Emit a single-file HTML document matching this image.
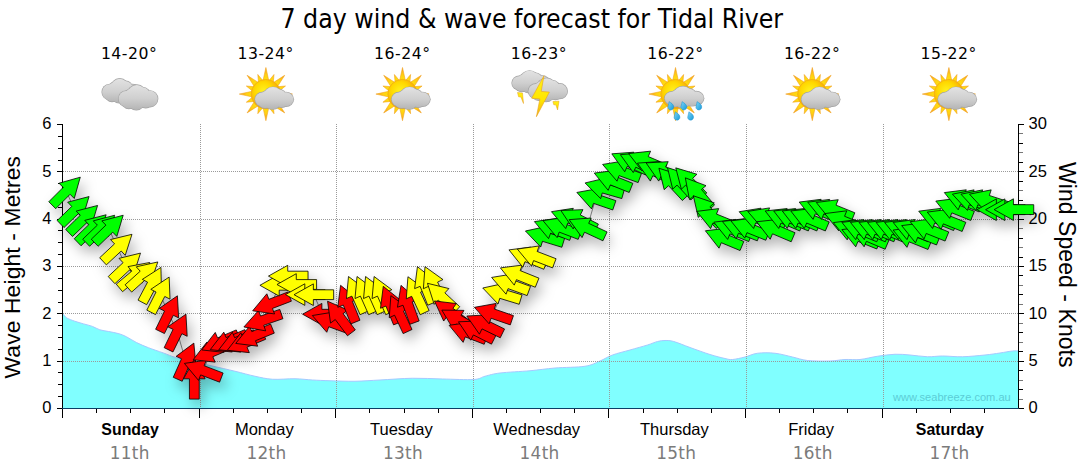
<!DOCTYPE html>
<html lang="en"><head><meta charset="utf-8"><title>7 day wind &amp; wave forecast for Tidal River</title>
<style>
html,body{margin:0;padding:0;background:#fff;}
body{width:1080px;height:475px;position:relative;overflow:hidden;font-family:"Liberation Sans",sans-serif;color:#000;}
.title{position:absolute;left:0;top:2px;width:1063.6px;text-align:center;font-family:"DejaVu Sans Condensed","DejaVu Sans",sans-serif;font-size:26.38px;line-height:34px;white-space:nowrap;}
.temp{position:absolute;top:44.2px;width:100px;text-align:center;font-family:"DejaVu Sans",sans-serif;font-size:15.7px;letter-spacing:0.5px;line-height:20px;white-space:nowrap;}
.day{position:absolute;top:419px;width:100px;text-align:center;font-size:16.5px;line-height:20px;white-space:nowrap;}
.day.b{font-weight:bold;font-size:15.9px;margin-top:0.8px;}
.date{position:absolute;top:443.4px;width:100px;text-align:center;font-family:"DejaVu Sans",sans-serif;font-size:16.9px;letter-spacing:0.3px;line-height:20px;color:#7b7b7b;white-space:nowrap;}
.yl{position:absolute;left:19.5px;width:32px;text-align:right;font-size:16.5px;line-height:19px;}
.yr{position:absolute;left:1028.5px;width:40px;text-align:left;font-size:16.5px;line-height:19px;}
.vl{position:absolute;left:0;top:0;width:0;height:0;}
.vl span{position:absolute;left:0;top:0;white-space:nowrap;font-size:22.8px;letter-spacing:0.15px;line-height:23px;transform-origin:0 0;transform:translate(1.3px,378.5px) rotate(-90deg);}
.vr{position:absolute;left:0;top:0;width:0;height:0;}
.vr span{position:absolute;left:0;top:0;white-space:nowrap;font-size:23px;letter-spacing:0.06px;line-height:23px;transform-origin:0 0;transform:translate(1078.2px,162px) rotate(90deg);}
</style></head>
<body>
<svg width="1080" height="475" viewBox="0 0 1080 475" style="position:absolute;left:0;top:0;z-index:2">
<defs>
<filter id="sh" x="-5%" y="-25%" width="110%" height="150%"><feDropShadow dx="4" dy="7" stdDeviation="6.2" flood-color="#000" flood-opacity="0.29"/></filter>
<radialGradient id="sung" cx="0.42" cy="0.4" r="0.62"><stop offset="0" stop-color="#fff21f"/><stop offset="0.5" stop-color="#ffd800"/><stop offset="1" stop-color="#f59b0f"/></radialGradient>
<linearGradient id="dropg" x1="0" y1="0" x2="1" y2="1"><stop offset="0" stop-color="#7fd6f7"/><stop offset="1" stop-color="#159ad9"/></linearGradient>
<linearGradient id="boltg" x1="0" y1="0" x2="0" y2="1"><stop offset="0" stop-color="#fff01a"/><stop offset="0.6" stop-color="#ffe600"/><stop offset="1" stop-color="#f2ae1c"/></linearGradient>
<g id="ic-cloud"><linearGradient id="cg1" gradientUnits="userSpaceOnUse" x1="0" y1="78.9" x2="0" y2="102.9"><stop offset="0" stop-color="#e2e2e2"/><stop offset="0.55" stop-color="#cfcfcf"/><stop offset="1" stop-color="#b4b4b4"/></linearGradient><g fill="#a3a3a3"><ellipse cx="-10.55" cy="87.9" rx="9.52" ry="9.85"/><ellipse cx="-20.97" cy="92.1" rx="7.88" ry="8.15"/><ellipse cx="2.29" cy="92.1" rx="8.07" ry="8.35"/><ellipse cx="-11.03" cy="94.4" rx="8.84" ry="9.15"/><ellipse cx="-18.27" cy="94.7" rx="7.3" ry="7.55"/><ellipse cx="-1.86" cy="94.1" rx="7.1" ry="7.35"/><ellipse cx="-4.76" cy="88.4" rx="7.59" ry="7.85"/><ellipse cx="-15.37" cy="89.4" rx="7.59" ry="7.85"/></g><g fill="url(#cg1)"><ellipse cx="-10.55" cy="87.9" rx="8.87" ry="9.2"/><ellipse cx="-20.97" cy="92.1" rx="7.23" ry="7.5"/><ellipse cx="2.29" cy="92.1" rx="7.42" ry="7.7"/><ellipse cx="-11.03" cy="94.4" rx="8.19" ry="8.5"/><ellipse cx="-18.27" cy="94.7" rx="6.65" ry="6.9"/><ellipse cx="-1.86" cy="94.1" rx="6.46" ry="6.7"/><ellipse cx="-4.76" cy="88.4" rx="6.94" ry="7.2"/><ellipse cx="-15.37" cy="89.4" rx="6.94" ry="7.2"/></g><linearGradient id="cg2" gradientUnits="userSpaceOnUse" x1="0" y1="85.19" x2="0" y2="109.91"><stop offset="0" stop-color="#e2e2e2"/><stop offset="0.55" stop-color="#cfcfcf"/><stop offset="1" stop-color="#b4b4b4"/></linearGradient><g fill="#a3a3a3"><ellipse cx="6.51" cy="94.46" rx="9.8" ry="10.13"/><ellipse cx="-4.24" cy="98.79" rx="8.11" ry="8.38"/><ellipse cx="19.74" cy="98.79" rx="8.31" ry="8.59"/><ellipse cx="6.01" cy="101.16" rx="9.11" ry="9.41"/><ellipse cx="-1.45" cy="101.46" rx="7.51" ry="7.77"/><ellipse cx="15.46" cy="100.85" rx="7.31" ry="7.56"/><ellipse cx="12.48" cy="94.97" rx="7.81" ry="8.08"/><ellipse cx="1.53" cy="96" rx="7.81" ry="8.08"/></g><g fill="url(#cg2)"><ellipse cx="6.51" cy="94.46" rx="9.15" ry="9.48"/><ellipse cx="-4.24" cy="98.79" rx="7.46" ry="7.73"/><ellipse cx="19.74" cy="98.79" rx="7.66" ry="7.94"/><ellipse cx="6.01" cy="101.16" rx="8.46" ry="8.76"/><ellipse cx="-1.45" cy="101.46" rx="6.86" ry="7.12"/><ellipse cx="15.46" cy="100.85" rx="6.67" ry="6.91"/><ellipse cx="12.48" cy="94.97" rx="7.16" ry="7.43"/><ellipse cx="1.53" cy="96" rx="7.16" ry="7.43"/></g></g>
<g id="ic-suncloud"><radialGradient id="rg10" gradientUnits="userSpaceOnUse" cx="-1" cy="94.1" r="27"><stop offset="0.45" stop-color="#ffe60a"/><stop offset="0.72" stop-color="#ffcf14"/><stop offset="1" stop-color="#f59a1a"/></radialGradient><g fill="url(#rg10)" stroke="#f0a01c" stroke-width="0.55" stroke-linejoin="round"><polygon points="-1,67.5 2.1,81.6 -4.1,81.6"/><polygon points="7.11,74.51 6.28,83.58 1.29,81.52"/><polygon points="17.81,75.29 10.03,87.45 5.65,83.07"/><polygon points="18.59,85.99 11.58,91.81 9.52,86.82"/><polygon points="25.6,94.1 11.5,97.2 11.5,91"/><polygon points="18.59,102.21 9.52,101.38 11.58,96.39"/><polygon points="17.81,112.91 5.65,105.13 10.03,100.75"/><polygon points="7.11,113.69 1.29,106.68 6.28,104.62"/><polygon points="-1,120.7 -4.1,106.6 2.1,106.6"/><polygon points="-9.11,113.69 -8.28,104.62 -3.29,106.68"/><polygon points="-19.81,112.91 -12.03,100.75 -7.65,105.13"/><polygon points="-20.59,102.21 -13.58,96.39 -11.52,101.38"/><polygon points="-27.6,94.1 -13.5,91 -13.5,97.2"/><polygon points="-20.59,85.99 -11.52,86.82 -13.58,91.81"/><polygon points="-19.81,75.29 -7.65,83.07 -12.03,87.45"/><polygon points="-9.11,74.51 -3.29,81.52 -8.28,83.58"/></g><circle cx="-1" cy="94.1" r="14.7" fill="url(#sung)" stroke="#f0a01a" stroke-width="0.6"/><linearGradient id="cg3" gradientUnits="userSpaceOnUse" x1="0" y1="87.27" x2="0" y2="109.23"><stop offset="0" stop-color="#e2e2e2"/><stop offset="0.55" stop-color="#cfcfcf"/><stop offset="1" stop-color="#b4b4b4"/></linearGradient><g fill="#a3a3a3"><ellipse cx="6.04" cy="95.5" rx="9.61" ry="9.04"/><ellipse cx="-4.49" cy="99.35" rx="7.95" ry="7.49"/><ellipse cx="19.01" cy="99.35" rx="8.15" ry="7.67"/><ellipse cx="5.55" cy="101.45" rx="8.93" ry="8.4"/><ellipse cx="-1.76" cy="101.73" rx="7.37" ry="6.94"/><ellipse cx="14.81" cy="101.18" rx="7.17" ry="6.75"/><ellipse cx="11.89" cy="95.96" rx="7.66" ry="7.21"/><ellipse cx="1.16" cy="96.88" rx="7.66" ry="7.21"/></g><g fill="url(#cg3)"><ellipse cx="6.04" cy="95.5" rx="8.96" ry="8.39"/><ellipse cx="-4.49" cy="99.35" rx="7.3" ry="6.84"/><ellipse cx="19.01" cy="99.35" rx="7.5" ry="7.02"/><ellipse cx="5.55" cy="101.45" rx="8.28" ry="7.75"/><ellipse cx="-1.76" cy="101.73" rx="6.72" ry="6.29"/><ellipse cx="14.81" cy="101.18" rx="6.53" ry="6.11"/><ellipse cx="11.89" cy="95.96" rx="7.01" ry="6.56"/><ellipse cx="1.16" cy="96.88" rx="7.01" ry="6.56"/></g></g>
<g id="ic-storm"><polygon points="-22.6,92.5 -17.6,93 -16.6,103.5 -19.2,97 -21.5,96.8" fill="url(#boltg)" stroke="#e9a21a" stroke-width="0.5"/><linearGradient id="cg4" gradientUnits="userSpaceOnUse" x1="0" y1="70.93" x2="0" y2="92.77"><stop offset="0" stop-color="#e2e2e2"/><stop offset="0.55" stop-color="#cfcfcf"/><stop offset="1" stop-color="#b4b4b4"/></linearGradient><g fill="#a3a3a3"><ellipse cx="-10.54" cy="79.12" rx="9.47" ry="8.99"/><ellipse cx="-20.91" cy="82.94" rx="7.84" ry="7.45"/><ellipse cx="2.23" cy="82.94" rx="8.03" ry="7.63"/><ellipse cx="-11.02" cy="85.03" rx="8.8" ry="8.36"/><ellipse cx="-18.22" cy="85.31" rx="7.26" ry="6.9"/><ellipse cx="-1.9" cy="84.76" rx="7.07" ry="6.72"/><ellipse cx="-4.78" cy="79.57" rx="7.55" ry="7.17"/><ellipse cx="-15.34" cy="80.48" rx="7.55" ry="7.17"/></g><g fill="url(#cg4)"><ellipse cx="-10.54" cy="79.12" rx="8.82" ry="8.34"/><ellipse cx="-20.91" cy="82.94" rx="7.19" ry="6.8"/><ellipse cx="2.23" cy="82.94" rx="7.38" ry="6.98"/><ellipse cx="-11.02" cy="85.03" rx="8.15" ry="7.71"/><ellipse cx="-18.22" cy="85.31" rx="6.61" ry="6.25"/><ellipse cx="-1.9" cy="84.76" rx="6.42" ry="6.07"/><ellipse cx="-4.78" cy="79.57" rx="6.9" ry="6.53"/><ellipse cx="-15.34" cy="80.48" rx="6.9" ry="6.53"/></g><polygon points="12.8,101.6 18.9,101.2 17.5,110 15.7,104.8 13.7,104.8" fill="url(#boltg)" stroke="#e9a21a" stroke-width="0.5"/><linearGradient id="cg5" gradientUnits="userSpaceOnUse" x1="0" y1="78.36" x2="0" y2="101.64"><stop offset="0" stop-color="#e2e2e2"/><stop offset="0.55" stop-color="#cfcfcf"/><stop offset="1" stop-color="#b4b4b4"/></linearGradient><g fill="#a3a3a3"><ellipse cx="6.42" cy="87.09" rx="9.75" ry="9.56"/><ellipse cx="-4.28" cy="91.16" rx="8.07" ry="7.92"/><ellipse cx="19.58" cy="91.16" rx="8.27" ry="8.11"/><ellipse cx="5.92" cy="93.39" rx="9.06" ry="8.89"/><ellipse cx="-1.5" cy="93.69" rx="7.48" ry="7.33"/><ellipse cx="15.32" cy="93.1" rx="7.28" ry="7.14"/><ellipse cx="12.36" cy="87.58" rx="7.77" ry="7.62"/><ellipse cx="1.47" cy="88.55" rx="7.77" ry="7.62"/></g><g fill="url(#cg5)"><ellipse cx="6.42" cy="87.09" rx="9.1" ry="8.91"/><ellipse cx="-4.28" cy="91.16" rx="7.42" ry="7.27"/><ellipse cx="19.58" cy="91.16" rx="7.62" ry="7.46"/><ellipse cx="5.92" cy="93.39" rx="8.41" ry="8.24"/><ellipse cx="-1.5" cy="93.69" rx="6.83" ry="6.68"/><ellipse cx="15.32" cy="93.1" rx="6.63" ry="6.49"/><ellipse cx="12.36" cy="87.58" rx="7.12" ry="6.97"/><ellipse cx="1.47" cy="88.55" rx="7.12" ry="6.97"/></g><polygon points="3.9,75.7 -8.4,98.2 -0.2,98.9 -3.7,116.7 9.3,92.1 1.1,91.4" fill="url(#boltg)" stroke="#e9a21a" stroke-width="0.6" stroke-linejoin="round"/></g>
<g id="ic-sunrain"><radialGradient id="rg12" gradientUnits="userSpaceOnUse" cx="-1.2" cy="94.1" r="27"><stop offset="0.45" stop-color="#ffe60a"/><stop offset="0.72" stop-color="#ffcf14"/><stop offset="1" stop-color="#f59a1a"/></radialGradient><g fill="url(#rg12)" stroke="#f0a01c" stroke-width="0.55" stroke-linejoin="round"><polygon points="-1.2,67.5 1.9,81.6 -4.3,81.6"/><polygon points="6.91,74.51 6.08,83.58 1.09,81.52"/><polygon points="17.61,75.29 9.83,87.45 5.45,83.07"/><polygon points="18.39,85.99 11.38,91.81 9.32,86.82"/><polygon points="25.4,94.1 11.3,97.2 11.3,91"/><polygon points="18.39,102.21 9.32,101.38 11.38,96.39"/><polygon points="17.61,112.91 5.45,105.13 9.83,100.75"/><polygon points="6.91,113.69 1.09,106.68 6.08,104.62"/><polygon points="-1.2,120.7 -4.3,106.6 1.9,106.6"/><polygon points="-9.31,113.69 -8.48,104.62 -3.49,106.68"/><polygon points="-20.01,112.91 -12.23,100.75 -7.85,105.13"/><polygon points="-20.79,102.21 -13.78,96.39 -11.72,101.38"/><polygon points="-27.8,94.1 -13.7,91 -13.7,97.2"/><polygon points="-20.79,85.99 -11.72,86.82 -13.78,91.81"/><polygon points="-20.01,75.29 -7.85,83.07 -12.23,87.45"/><polygon points="-9.31,74.51 -3.49,81.52 -8.48,83.58"/></g><circle cx="-1.2" cy="94.1" r="14.7" fill="url(#sung)" stroke="#f0a01a" stroke-width="0.6"/><linearGradient id="cg6" gradientUnits="userSpaceOnUse" x1="0" y1="86.58" x2="0" y2="107.82"><stop offset="0" stop-color="#e2e2e2"/><stop offset="0.55" stop-color="#cfcfcf"/><stop offset="1" stop-color="#b4b4b4"/></linearGradient><g fill="#a3a3a3"><ellipse cx="6.21" cy="94.55" rx="9.75" ry="8.76"/><ellipse cx="-4.48" cy="98.26" rx="8.07" ry="7.25"/><ellipse cx="19.38" cy="98.26" rx="8.27" ry="7.43"/><ellipse cx="5.72" cy="100.3" rx="9.06" ry="8.14"/><ellipse cx="-1.7" cy="100.56" rx="7.48" ry="6.72"/><ellipse cx="15.12" cy="100.03" rx="7.28" ry="6.54"/><ellipse cx="12.16" cy="94.99" rx="7.77" ry="6.99"/><ellipse cx="1.27" cy="95.87" rx="7.77" ry="6.99"/></g><g fill="url(#cg6)"><ellipse cx="6.21" cy="94.55" rx="9.1" ry="8.11"/><ellipse cx="-4.48" cy="98.26" rx="7.42" ry="6.6"/><ellipse cx="19.38" cy="98.26" rx="7.62" ry="6.78"/><ellipse cx="5.72" cy="100.3" rx="8.41" ry="7.49"/><ellipse cx="-1.7" cy="100.56" rx="6.83" ry="6.07"/><ellipse cx="15.12" cy="100.03" rx="6.63" ry="5.9"/><ellipse cx="12.16" cy="94.99" rx="7.12" ry="6.34"/><ellipse cx="1.27" cy="95.87" rx="7.12" ry="6.34"/></g><path d="M-7.6,101.6 c1.6,1.2 4.6,2.6 4.6,5.3 a2.9,2.9 0 1 1 -5.6,-0.9 c0.3,-1.6 0.9,-2.9 1,-4.4z" fill="url(#dropg)" stroke="#1b8fcf" stroke-width="0.5"/><path d="M5.4,101.6 c1.6,1.2 4.6,2.6 4.6,5.3 a2.9,2.9 0 1 1 -5.6,-0.9 c0.3,-1.6 0.9,-2.9 1,-4.4z" fill="url(#dropg)" stroke="#1b8fcf" stroke-width="0.5"/><path d="M20.4,101.6 c1.6,1.2 4.6,2.6 4.6,5.3 a2.9,2.9 0 1 1 -5.6,-0.9 c0.3,-1.6 0.9,-2.9 1,-4.4z" fill="url(#dropg)" stroke="#1b8fcf" stroke-width="0.5"/><path d="M-1.4,111.8 c1.6,1.2 4.6,2.6 4.6,5.3 a2.9,2.9 0 1 1 -5.6,-0.9 c0.3,-1.6 0.9,-2.9 1,-4.4z" fill="url(#dropg)" stroke="#1b8fcf" stroke-width="0.5"/><path d="M12.2,111.8 c1.6,1.2 4.6,2.6 4.6,5.3 a2.9,2.9 0 1 1 -5.6,-0.9 c0.3,-1.6 0.9,-2.9 1,-4.4z" fill="url(#dropg)" stroke="#1b8fcf" stroke-width="0.5"/></g>
</defs>
<path d="M62.5,313.3 C62.83,313.72 63.68,314.97 64.5,315.8 C65.32,316.63 65.7,317.4 67.4,318.3 C69.1,319.2 72,320.27 74.7,321.2 C77.4,322.13 80.65,323.03 83.6,323.9 C86.55,324.77 89.7,325.42 92.4,326.4 C95.1,327.38 97.1,328.95 99.8,329.8 C102.5,330.65 105.42,330.85 108.6,331.5 C111.78,332.15 115.95,332.83 118.9,333.7 C121.85,334.57 123.35,335.22 126.3,336.7 C129.25,338.18 132.92,340.77 136.6,342.6 C140.28,344.43 143.97,345.98 148.4,347.7 C152.83,349.42 158.28,351.17 163.2,352.9 C168.12,354.63 170.1,356 177.9,358.1 C185.7,360.2 200.48,363.31 210,365.5 C219.52,367.69 227.5,369.46 235,371.25 C242.5,373.04 248.75,374.92 255,376.25 C261.25,377.58 265.83,378.83 272.5,379.25 C279.17,379.67 288.33,378.62 295,378.75 C301.67,378.88 306.67,379.67 312.5,380 C318.33,380.33 322.92,380.54 330,380.75 C337.08,380.96 346.67,381.38 355,381.25 C363.33,381.12 370.42,380.5 380,380 C389.58,379.5 402.08,378.42 412.5,378.25 C422.92,378.08 432.29,378.79 442.5,379 C452.71,379.21 466.67,379.96 473.75,379.5 C480.83,379.04 480.62,377.33 485,376.25 C489.38,375.17 492.5,373.92 500,373 C507.5,372.08 520.83,371.58 530,370.75 C539.17,369.92 545.83,368.75 555,368 C564.17,367.25 577.5,367.42 585,366.25 C592.5,365.08 595.42,362.88 600,361 C604.58,359.12 607.5,356.83 612.5,355 C617.5,353.17 624.17,351.67 630,350 C635.83,348.33 642.92,346.42 647.5,345 C652.08,343.58 654.58,342.25 657.5,341.5 C660.42,340.75 662.29,340.5 665,340.5 C667.71,340.5 669.58,340.33 673.75,341.5 C677.92,342.67 683.96,345.33 690,347.5 C696.04,349.67 704.17,352.67 710,354.5 C715.83,356.33 721.25,357.67 725,358.5 C728.75,359.33 729.17,359.75 732.5,359.5 C735.83,359.25 740.83,358.04 745,357 C749.17,355.96 752.5,353.88 757.5,353.25 C762.5,352.62 769.17,352.62 775,353.25 C780.83,353.88 787.08,355.79 792.5,357 C797.92,358.21 801.25,359.83 807.5,360.5 C813.75,361.17 823.75,361.17 830,361 C836.25,360.83 840,359.75 845,359.5 C850,359.25 854.58,360.04 860,359.5 C865.42,358.96 871.67,357.12 877.5,356.25 C883.33,355.38 889.58,354.46 895,354.25 C900.42,354.04 904.58,354.58 910,355 C915.42,355.42 922.08,356.58 927.5,356.75 C932.92,356.92 936.67,356 942.5,356 C948.33,356 955.42,356.92 962.5,356.75 C969.58,356.58 978.75,355.62 985,355 C991.25,354.38 995.42,353.67 1000,353 C1004.58,352.33 1009.33,351.33 1012.5,351 C1015.67,350.67 1017.92,351 1019,351 L1019,408.5 L62.5,408.5 Z" fill="#80ffff"/>
<path d="M62.5,313.3 C62.83,313.72 63.68,314.97 64.5,315.8 C65.32,316.63 65.7,317.4 67.4,318.3 C69.1,319.2 72,320.27 74.7,321.2 C77.4,322.13 80.65,323.03 83.6,323.9 C86.55,324.77 89.7,325.42 92.4,326.4 C95.1,327.38 97.1,328.95 99.8,329.8 C102.5,330.65 105.42,330.85 108.6,331.5 C111.78,332.15 115.95,332.83 118.9,333.7 C121.85,334.57 123.35,335.22 126.3,336.7 C129.25,338.18 132.92,340.77 136.6,342.6 C140.28,344.43 143.97,345.98 148.4,347.7 C152.83,349.42 158.28,351.17 163.2,352.9 C168.12,354.63 170.1,356 177.9,358.1 C185.7,360.2 200.48,363.31 210,365.5 C219.52,367.69 227.5,369.46 235,371.25 C242.5,373.04 248.75,374.92 255,376.25 C261.25,377.58 265.83,378.83 272.5,379.25 C279.17,379.67 288.33,378.62 295,378.75 C301.67,378.88 306.67,379.67 312.5,380 C318.33,380.33 322.92,380.54 330,380.75 C337.08,380.96 346.67,381.38 355,381.25 C363.33,381.12 370.42,380.5 380,380 C389.58,379.5 402.08,378.42 412.5,378.25 C422.92,378.08 432.29,378.79 442.5,379 C452.71,379.21 466.67,379.96 473.75,379.5 C480.83,379.04 480.62,377.33 485,376.25 C489.38,375.17 492.5,373.92 500,373 C507.5,372.08 520.83,371.58 530,370.75 C539.17,369.92 545.83,368.75 555,368 C564.17,367.25 577.5,367.42 585,366.25 C592.5,365.08 595.42,362.88 600,361 C604.58,359.12 607.5,356.83 612.5,355 C617.5,353.17 624.17,351.67 630,350 C635.83,348.33 642.92,346.42 647.5,345 C652.08,343.58 654.58,342.25 657.5,341.5 C660.42,340.75 662.29,340.5 665,340.5 C667.71,340.5 669.58,340.33 673.75,341.5 C677.92,342.67 683.96,345.33 690,347.5 C696.04,349.67 704.17,352.67 710,354.5 C715.83,356.33 721.25,357.67 725,358.5 C728.75,359.33 729.17,359.75 732.5,359.5 C735.83,359.25 740.83,358.04 745,357 C749.17,355.96 752.5,353.88 757.5,353.25 C762.5,352.62 769.17,352.62 775,353.25 C780.83,353.88 787.08,355.79 792.5,357 C797.92,358.21 801.25,359.83 807.5,360.5 C813.75,361.17 823.75,361.17 830,361 C836.25,360.83 840,359.75 845,359.5 C850,359.25 854.58,360.04 860,359.5 C865.42,358.96 871.67,357.12 877.5,356.25 C883.33,355.38 889.58,354.46 895,354.25 C900.42,354.04 904.58,354.58 910,355 C915.42,355.42 922.08,356.58 927.5,356.75 C932.92,356.92 936.67,356 942.5,356 C948.33,356 955.42,356.92 962.5,356.75 C969.58,356.58 978.75,355.62 985,355 C991.25,354.38 995.42,353.67 1000,353 C1004.58,352.33 1009.33,351.33 1012.5,351 C1015.67,350.67 1017.92,351 1019,351" fill="none" stroke="#a6c9ff" stroke-width="1"/>
<g stroke="#9a9a9a" stroke-width="1" stroke-dasharray="1,1" shape-rendering="crispEdges"><line x1="200.5" y1="124" x2="200.5" y2="408"/><line x1="336.5" y1="124" x2="336.5" y2="408"/><line x1="473.5" y1="124" x2="473.5" y2="408"/><line x1="609.5" y1="124" x2="609.5" y2="408"/><line x1="746.5" y1="124" x2="746.5" y2="408"/><line x1="883.5" y1="124" x2="883.5" y2="408"/><line x1="63" y1="361.5" x2="1018" y2="361.5"/><line x1="63" y1="313.5" x2="1018" y2="313.5"/><line x1="63" y1="266.5" x2="1018" y2="266.5"/><line x1="63" y1="219.5" x2="1018" y2="219.5"/><line x1="63" y1="171.5" x2="1018" y2="171.5"/></g>
<text x="893" y="400.5" font-family="Liberation Sans, sans-serif" font-size="11.1" fill="#5ccdd6">www.seabreeze.com.au</text>
<g stroke="#000" stroke-width="1" shape-rendering="crispEdges"><line x1="62.5" y1="124" x2="62.5" y2="409"/><line x1="1018.5" y1="124" x2="1018.5" y2="409"/><line x1="62" y1="408.5" x2="1019" y2="408.5" stroke="#0c3f66"/><line x1="57" y1="408.5" x2="62" y2="408.5"/><line x1="58" y1="396.5" x2="62" y2="396.5"/><line x1="58" y1="384.5" x2="62" y2="384.5"/><line x1="58" y1="372.5" x2="62" y2="372.5"/><line x1="57" y1="361.5" x2="62" y2="361.5"/><line x1="58" y1="349.5" x2="62" y2="349.5"/><line x1="58" y1="337.5" x2="62" y2="337.5"/><line x1="58" y1="325.5" x2="62" y2="325.5"/><line x1="57" y1="313.5" x2="62" y2="313.5"/><line x1="58" y1="302.5" x2="62" y2="302.5"/><line x1="58" y1="290.5" x2="62" y2="290.5"/><line x1="58" y1="278.5" x2="62" y2="278.5"/><line x1="57" y1="266.5" x2="62" y2="266.5"/><line x1="58" y1="254.5" x2="62" y2="254.5"/><line x1="58" y1="242.5" x2="62" y2="242.5"/><line x1="58" y1="230.5" x2="62" y2="230.5"/><line x1="57" y1="219.5" x2="62" y2="219.5"/><line x1="58" y1="207.5" x2="62" y2="207.5"/><line x1="58" y1="195.5" x2="62" y2="195.5"/><line x1="58" y1="183.5" x2="62" y2="183.5"/><line x1="57" y1="171.5" x2="62" y2="171.5"/><line x1="58" y1="160.5" x2="62" y2="160.5"/><line x1="58" y1="148.5" x2="62" y2="148.5"/><line x1="58" y1="136.5" x2="62" y2="136.5"/><line x1="57" y1="124.5" x2="62" y2="124.5"/><line x1="1019" y1="408.5" x2="1024" y2="408.5"/><line x1="1019" y1="399.5" x2="1023" y2="399.5" stroke="#777"/><line x1="1019" y1="389.5" x2="1023" y2="389.5" /><line x1="1019" y1="380.5" x2="1023" y2="380.5" stroke="#777"/><line x1="1019" y1="370.5" x2="1023" y2="370.5" /><line x1="1019" y1="361.5" x2="1024" y2="361.5"/><line x1="1019" y1="351.5" x2="1023" y2="351.5" /><line x1="1019" y1="342.5" x2="1023" y2="342.5" stroke="#777"/><line x1="1019" y1="332.5" x2="1023" y2="332.5" /><line x1="1019" y1="323.5" x2="1023" y2="323.5" stroke="#777"/><line x1="1019" y1="313.5" x2="1024" y2="313.5"/><line x1="1019" y1="304.5" x2="1023" y2="304.5" stroke="#777"/><line x1="1019" y1="294.5" x2="1023" y2="294.5" /><line x1="1019" y1="285.5" x2="1023" y2="285.5" stroke="#777"/><line x1="1019" y1="275.5" x2="1023" y2="275.5" /><line x1="1019" y1="266.5" x2="1024" y2="266.5"/><line x1="1019" y1="257.5" x2="1023" y2="257.5" /><line x1="1019" y1="247.5" x2="1023" y2="247.5" stroke="#777"/><line x1="1019" y1="238.5" x2="1023" y2="238.5" /><line x1="1019" y1="228.5" x2="1023" y2="228.5" stroke="#777"/><line x1="1019" y1="219.5" x2="1024" y2="219.5"/><line x1="1019" y1="209.5" x2="1023" y2="209.5" stroke="#777"/><line x1="1019" y1="200.5" x2="1023" y2="200.5" /><line x1="1019" y1="190.5" x2="1023" y2="190.5" stroke="#777"/><line x1="1019" y1="181.5" x2="1023" y2="181.5" /><line x1="1019" y1="171.5" x2="1024" y2="171.5"/><line x1="1019" y1="162.5" x2="1023" y2="162.5" /><line x1="1019" y1="152.5" x2="1023" y2="152.5" stroke="#777"/><line x1="1019" y1="143.5" x2="1023" y2="143.5" /><line x1="1019" y1="133.5" x2="1023" y2="133.5" stroke="#777"/><line x1="1019" y1="124.5" x2="1024" y2="124.5"/><line x1="62.5" y1="409" x2="62.5" y2="418"/><line x1="96.5" y1="409" x2="96.5" y2="413"/><line x1="130.5" y1="409" x2="130.5" y2="413"/><line x1="164.5" y1="409" x2="164.5" y2="413"/><line x1="199.5" y1="409" x2="199.5" y2="418"/><line x1="233.5" y1="409" x2="233.5" y2="413"/><line x1="267.5" y1="409" x2="267.5" y2="413"/><line x1="301.5" y1="409" x2="301.5" y2="413"/><line x1="335.5" y1="409" x2="335.5" y2="418"/><line x1="369.5" y1="409" x2="369.5" y2="413"/><line x1="404.5" y1="409" x2="404.5" y2="413"/><line x1="438.5" y1="409" x2="438.5" y2="413"/><line x1="472.5" y1="409" x2="472.5" y2="418"/><line x1="506.5" y1="409" x2="506.5" y2="413"/><line x1="540.5" y1="409" x2="540.5" y2="413"/><line x1="574.5" y1="409" x2="574.5" y2="413"/><line x1="608.5" y1="409" x2="608.5" y2="418"/><line x1="643.5" y1="409" x2="643.5" y2="413"/><line x1="677.5" y1="409" x2="677.5" y2="413"/><line x1="711.5" y1="409" x2="711.5" y2="413"/><line x1="745.5" y1="409" x2="745.5" y2="418"/><line x1="779.5" y1="409" x2="779.5" y2="413"/><line x1="813.5" y1="409" x2="813.5" y2="413"/><line x1="847.5" y1="409" x2="847.5" y2="413"/><line x1="882.5" y1="409" x2="882.5" y2="418"/><line x1="916.5" y1="409" x2="916.5" y2="413"/><line x1="950.5" y1="409" x2="950.5" y2="413"/><line x1="984.5" y1="409" x2="984.5" y2="413"/></g>
<polyline points="66.27,191.2 74.81,210.3 83.34,219.2 91.88,228.5 100.42,229 108.96,229 117.49,247.8 126.03,266.6 134.57,275.2 143.11,275.2 151.64,284.9 160.18,294.7 168.72,313.6 177.26,332 185.79,361.2 194.33,379.3 202.87,370.5 211.41,352 219.94,342.2 228.48,341.9 237.02,342 245.56,342.5 254.09,336 262.63,320.5 271.17,303.7 279.71,285.3 288.24,276.1 296.78,284.5 305.32,294.6 313.86,294.7 322.39,314.2 330.93,322.3 339.47,317 348.01,303.7 356.54,294.6 365.08,294.6 373.62,294.6 382.16,294.6 390.69,304.7 399.23,313.6 407.77,304 416.31,294.7 424.84,285 433.38,284.6 441.92,296.8 450.46,312.6 458.99,320 467.53,332.5 476.07,330.8 484.61,324.7 493.14,313.8 501.68,293.8 510.22,284.2 518.76,275.3 527.29,257.3 535.83,256.2 544.37,236.8 552.91,228.7 561.44,227.7 569.98,218.6 578.52,219.5 587.06,228 595.59,198.9 604.13,188.4 612.67,180.5 621.21,171.2 629.74,162.2 638.28,163 646.82,161.3 655.36,171.5 663.89,171.6 672.43,182.7 680.97,182.1 689.51,182.1 698.04,193 706.58,210.5 715.12,218.8 723.66,238.4 732.19,229.6 740.73,228.9 749.27,228.3 757.81,218.5 766.34,218.2 774.88,229.5 783.42,218.7 791.96,218.7 800.49,218.7 809.03,218.7 817.57,209.5 826.11,209.6 834.64,209.9 843.18,221 851.72,230 860.26,237 868.79,237 860.26,229.8 868.79,229.8 877.33,229.8 885.87,229.8 894.41,229.8 902.94,229.8 911.48,237.5 911.48,229.8 920.02,233 928.56,229.1 937.09,218.6 945.63,219.5 954.17,208.5 962.71,200 971.24,200.3 979.78,200.3 988.32,200.3 996.86,209.7 1005.39,209.7 1013.93,209.6" fill="none" stroke="#888" stroke-width="1"/>
<g stroke="#000" stroke-width="0.8" stroke-linejoin="miter" filter="url(#sh)"><polygon points="48.8,201.74 63.16,187.38 58.99,183.21 80.27,177.2 74.26,198.48 70.09,194.31 55.73,208.67" fill="#00ff00"/>
<polygon points="57.16,220.53 71.76,206.43 67.66,202.18 89.05,196.55 82.67,217.72 78.57,213.48 63.97,227.58" fill="#00ff00"/>
<polygon points="65.7,229.43 80.3,215.33 76.2,211.08 97.59,205.45 91.21,226.62 87.11,222.38 72.5,236.48" fill="#00ff00"/>
<polygon points="74.23,238.73 88.84,224.63 84.74,220.38 106.12,214.75 99.74,235.92 95.64,231.68 81.04,245.78" fill="#00ff00"/>
<polygon points="82.77,239.23 97.37,225.13 93.28,220.88 114.66,215.25 108.28,236.42 104.18,232.18 89.58,246.28" fill="#00ff00"/>
<polygon points="91.31,239.23 105.91,225.13 101.81,220.88 123.2,215.25 116.82,236.42 112.72,232.18 98.12,246.28" fill="#00ff00"/>
<polygon points="99.67,257.72 114.52,243.88 110.49,239.56 131.97,234.3 125.23,255.36 121.2,251.04 106.35,264.89" fill="#ffff00"/>
<polygon points="108.21,276.52 123.06,262.68 119.03,258.36 140.51,253.1 133.76,274.16 129.74,269.84 114.89,283.69" fill="#ffff00"/>
<polygon points="116.25,284.17 131.8,271.12 128.01,266.61 149.74,262.47 141.89,283.15 138.1,278.63 122.55,291.68" fill="#ffff00"/>
<polygon points="125.11,284.81 140.2,271.22 136.25,266.84 157.82,261.95 150.7,282.89 146.76,278.51 131.67,292.09" fill="#ffff00"/>
<polygon points="138.02,300.08 147.55,282.16 142.34,279.39 160.94,267.42 161.41,289.53 156.2,286.76 146.67,304.68" fill="#ffff00"/>
<polygon points="146.83,310.12 156.04,292.03 150.79,289.35 169.17,277.06 170.03,299.16 164.77,296.48 155.56,314.57" fill="#ffff00"/>
<polygon points="155.63,329.25 164.53,311 159.23,308.42 177.4,295.8 178.64,317.89 173.34,315.3 164.44,333.54" fill="#ff0000"/>
<polygon points="164.17,347.65 173.07,329.4 167.77,326.82 185.94,314.2 187.18,336.29 181.88,333.7 172.98,351.94" fill="#ff0000"/>
<polygon points="173.26,377.3 181.52,358.75 176.13,356.35 193.85,343.11 195.86,365.14 190.47,362.74 182.22,381.28" fill="#ff0000"/>
<polygon points="189.43,399.1 189.43,378.8 183.53,378.8 194.33,359.5 205.13,378.8 199.23,378.8 199.23,399.1" fill="#ff0000"/>
<polygon points="219.6,382.17 200.65,374.9 198.53,380.4 184.38,363.4 206.27,360.24 204.16,365.75 223.11,373.02" fill="#ff0000"/>
<polygon points="231.55,348.77 212.86,356.71 215.17,362.14 193.18,359.74 206.73,342.25 209.03,347.68 227.72,339.75" fill="#ff0000"/>
<polygon points="240.08,338.97 221.4,346.91 223.7,352.34 201.72,349.94 215.26,332.45 217.57,337.88 236.26,329.95" fill="#ff0000"/>
<polygon points="248.62,338.67 229.94,346.61 232.24,352.04 210.26,349.64 223.8,332.15 226.11,337.58 244.79,329.65" fill="#ff0000"/>
<polygon points="257.16,338.77 238.47,346.71 240.78,352.14 218.79,349.74 232.34,332.25 234.64,337.68 253.33,329.75" fill="#ff0000"/>
<polygon points="265.7,339.27 247.01,347.21 249.32,352.64 227.33,350.24 240.88,332.75 243.18,338.18 261.87,330.25" fill="#ff0000"/>
<polygon points="274.29,333.13 255.47,340.73 257.68,346.2 235.74,343.42 249.58,326.17 251.79,331.64 270.62,324.04" fill="#ff0000"/>
<polygon points="282.95,318.69 263.75,325.3 265.67,330.87 243.91,326.95 258.64,310.45 260.56,316.03 279.76,309.42" fill="#ff0000"/>
<polygon points="291.41,301.18 272.46,308.45 274.57,313.96 252.68,310.8 266.83,293.8 268.95,299.3 287.9,292.03" fill="#ff0000"/>
<polygon points="299.51,290.2 279.21,290.2 279.21,296.1 259.91,285.3 279.21,274.5 279.21,280.4 299.51,280.4" fill="#ffff00"/>
<polygon points="308.04,281 287.74,281 287.74,286.9 268.44,276.1 287.74,265.3 287.74,271.2 308.04,271.2" fill="#ffff00"/>
<polygon points="316.58,289.4 296.28,289.4 296.28,295.3 276.98,284.5 296.28,273.7 296.28,279.6 316.58,279.6" fill="#ffff00"/>
<polygon points="325.12,299.5 304.82,299.5 304.82,305.4 285.52,294.6 304.82,283.8 304.82,289.7 325.12,289.7" fill="#ffff00"/>
<polygon points="333.66,299.6 313.36,299.6 313.36,305.5 294.06,294.7 313.36,283.9 313.36,289.8 333.66,289.8" fill="#ffff00"/>
<polygon points="342.19,319.1 321.89,319.1 321.89,325 302.59,314.2 321.89,303.4 321.89,309.3 342.19,309.3" fill="#ff0000"/>
<polygon points="347.86,333.68 328.79,326.73 326.77,332.28 312.33,315.53 334.16,311.98 332.14,317.52 351.21,324.47" fill="#ff0000"/>
<polygon points="347.47,335.76 335.25,319.55 330.54,323.1 327.55,301.19 347.79,310.1 343.08,313.65 355.3,329.86" fill="#ff0000"/>
<polygon points="350.88,323.89 343.28,305.07 337.81,307.28 340.59,285.34 357.83,299.19 352.36,301.4 359.97,320.22" fill="#ff0000"/>
<polygon points="360.12,314.68 351.86,296.14 346.47,298.54 348.49,276.51 366.21,289.75 360.82,292.15 369.07,310.7" fill="#ffff00"/>
<polygon points="368.66,314.68 360.4,296.14 355.01,298.54 357.03,276.51 374.74,289.75 369.35,292.15 377.61,310.7" fill="#ffff00"/>
<polygon points="377.2,314.68 368.94,296.14 363.55,298.54 365.57,276.51 383.28,289.75 377.89,292.15 386.15,310.7" fill="#ffff00"/>
<polygon points="385.73,314.68 377.48,296.14 372.09,298.54 374.1,276.51 391.82,289.75 386.43,292.15 394.69,310.7" fill="#ffff00"/>
<polygon points="393.57,324.89 385.96,306.07 380.49,308.28 383.28,286.34 400.52,300.19 395.05,302.4 402.65,321.22" fill="#ff0000"/>
<polygon points="403.16,333.62 394.58,315.22 389.23,317.71 390.86,295.66 408.81,308.58 403.46,311.08 412.04,329.47" fill="#ff0000"/>
<polygon points="409.94,324.28 402.99,305.21 397.45,307.22 401,285.39 417.75,299.84 412.2,301.85 419.15,320.93" fill="#ff0000"/>
<polygon points="420.23,314.72 411.65,296.32 406.31,298.81 407.94,276.76 425.88,289.68 420.54,292.18 429.11,310.57" fill="#ffff00"/>
<polygon points="427.72,305.19 420.11,286.37 414.64,288.58 417.43,266.64 434.67,280.49 429.2,282.7 436.8,301.52" fill="#ffff00"/>
<polygon points="437.31,304.62 428.73,286.22 423.38,288.71 425.01,266.66 442.96,279.58 437.61,282.08 446.19,300.47" fill="#ffff00"/>
<polygon points="453.06,313.89 438.21,300.04 434.19,304.36 427.44,283.3 448.92,288.56 444.89,292.88 459.74,306.72" fill="#ffff00"/>
<polygon points="463.59,328.2 447.17,316.27 443.7,321.04 434.44,300.96 456.4,303.57 452.93,308.34 469.35,320.27" fill="#ff0000"/>
<polygon points="473.69,334.14 456.11,323.99 453.16,329.1 441.85,310.1 463.96,310.4 461.01,315.51 478.59,325.66" fill="#ff0000"/>
<polygon points="484.18,344.29 465.28,336.88 463.13,342.37 449.1,325.28 471.01,322.26 468.85,327.76 487.75,335.16" fill="#ff0000"/>
<polygon points="491.49,344.15 473.4,334.94 470.72,340.2 458.43,321.81 480.53,320.95 477.85,326.21 495.94,335.42" fill="#ff0000"/>
<polygon points="500.25,337.78 482.01,328.88 479.42,334.19 466.81,316.02 488.89,314.77 486.3,320.08 504.55,328.98" fill="#ff0000"/>
<polygon points="510.27,324.88 491.08,318.27 489.15,323.85 474.42,307.35 496.19,303.43 494.27,309 513.46,315.61" fill="#ff0000"/>
<polygon points="519.18,304.27 499.77,298.34 498.05,303.98 482.75,288.01 504.36,283.33 502.64,288.97 522.05,294.9" fill="#ffff00"/>
<polygon points="527.15,295.58 508.07,288.63 506.06,294.18 491.61,277.43 513.44,273.88 511.42,279.42 530.5,286.37" fill="#ffff00"/>
<polygon points="535.28,287.26 516.46,279.66 514.25,285.13 500.4,267.88 522.34,265.1 520.13,270.57 538.95,278.17" fill="#ffff00"/>
<polygon points="543.82,269.26 524.99,261.66 522.78,267.13 508.94,249.88 530.88,247.1 528.67,252.57 547.49,260.17" fill="#ffff00"/>
<polygon points="552.56,267.87 533.61,260.6 531.49,266.1 517.35,249.1 539.23,245.94 537.12,251.45 556.07,258.72" fill="#ffff00"/>
<polygon points="561.87,247.27 542.46,241.34 540.73,246.98 525.43,231.01 547.05,226.33 545.32,231.97 564.74,237.9" fill="#00ff00"/>
<polygon points="569.64,240.37 550.68,233.1 548.57,238.6 534.42,221.6 556.31,218.44 554.2,223.95 573.15,231.22" fill="#00ff00"/>
<polygon points="578.17,239.37 559.22,232.1 557.11,237.6 542.96,220.6 564.85,217.44 562.73,222.95 581.68,230.22" fill="#00ff00"/>
<polygon points="586.81,230.12 567.8,223.01 565.73,228.54 551.44,211.67 573.3,208.31 571.23,213.84 590.24,220.94" fill="#00ff00"/>
<polygon points="593.94,232.85 575.85,223.64 573.17,228.9 560.88,210.51 582.98,209.65 580.3,214.91 598.39,224.12" fill="#00ff00"/>
<polygon points="602.93,240.81 584.53,232.23 582.04,237.58 569.11,219.63 591.17,218 588.67,223.35 607.07,231.93" fill="#00ff00"/>
<polygon points="612.72,209.98 593.53,203.37 591.6,208.95 576.87,192.45 598.64,188.53 596.72,194.1 615.91,200.71" fill="#00ff00"/>
<polygon points="621.81,198.57 602.3,192.97 600.67,198.64 585.1,182.94 606.63,177.88 605,183.55 624.51,189.15" fill="#00ff00"/>
<polygon points="629.19,192.46 610.37,184.86 608.16,190.33 594.31,173.08 616.25,170.3 614.04,175.77 632.86,183.37" fill="#00ff00"/>
<polygon points="638.14,182.58 619.06,175.63 617.04,181.18 602.6,164.43 624.43,160.88 622.41,166.42 641.49,173.37" fill="#00ff00"/>
<polygon points="645.62,175.01 627.22,166.43 624.73,171.78 611.8,153.83 633.85,152.2 631.36,157.55 649.76,166.13" fill="#00ff00"/>
<polygon points="654.16,175.81 635.76,167.23 633.26,172.58 620.34,154.63 642.39,153 639.9,158.35 658.3,166.93" fill="#00ff00"/>
<polygon points="663.13,173.55 644.44,165.62 642.14,171.05 628.59,153.56 650.58,151.16 648.27,156.59 666.96,164.53" fill="#00ff00"/>
<polygon points="671.23,184.31 652.83,175.73 650.34,181.08 637.41,163.13 659.47,161.5 656.97,166.85 675.37,175.43" fill="#00ff00"/>
<polygon points="679.54,184.68 661.3,175.78 658.71,181.09 646.1,162.92 668.18,161.67 665.59,166.98 683.84,175.88" fill="#00ff00"/>
<polygon points="682.35,200.52 668.51,185.68 664.19,189.7 658.93,168.22 679.99,174.97 675.67,178.99 689.52,193.84" fill="#00ff00"/>
<polygon points="690.89,199.92 677.04,185.08 672.73,189.1 667.47,167.62 688.53,174.37 684.21,178.39 698.06,193.24" fill="#00ff00"/>
<polygon points="699.74,199.75 685.63,185.14 681.39,189.24 675.75,167.86 696.93,174.24 692.68,178.34 706.79,192.94" fill="#00ff00"/>
<polygon points="707.02,211.32 693.97,195.77 689.45,199.56 685.32,177.83 706,185.67 701.48,189.47 714.52,205.02" fill="#00ff00"/>
<polygon points="716.19,228.49 702.61,213.41 698.22,217.36 693.33,195.79 714.27,202.9 709.89,206.85 723.47,221.94" fill="#00ff00"/>
<polygon points="731.64,230.76 712.82,223.16 710.61,228.63 696.76,211.38 718.7,208.6 716.49,214.07 735.31,221.67" fill="#00ff00"/>
<polygon points="740.05,250.53 721.31,242.73 719.04,248.18 705.38,230.79 727.35,228.24 725.08,233.68 743.82,241.49" fill="#00ff00"/>
<polygon points="748.72,241.56 729.89,233.96 727.68,239.43 713.84,222.18 735.78,219.4 733.57,224.87 752.39,232.47" fill="#00ff00"/>
<polygon points="757.25,240.86 738.43,233.26 736.22,238.73 722.37,221.48 744.31,218.7 742.1,224.17 760.93,231.77" fill="#00ff00"/>
<polygon points="765.79,240.26 746.97,232.66 744.76,238.13 730.91,220.88 752.85,218.1 750.64,223.57 769.46,231.17" fill="#00ff00"/>
<polygon points="774.74,229.88 755.66,222.93 753.64,228.48 739.2,211.73 761.03,208.18 759.01,213.72 778.09,220.67" fill="#00ff00"/>
<polygon points="783.27,229.58 764.2,222.63 762.18,228.18 747.74,211.43 769.57,207.88 767.55,213.42 786.63,220.37" fill="#00ff00"/>
<polygon points="791.19,241.75 772.51,233.82 770.2,239.25 756.66,221.76 778.64,219.36 776.34,224.79 795.02,232.73" fill="#00ff00"/>
<polygon points="799.73,230.95 781.04,223.02 778.74,228.45 765.19,210.96 787.18,208.56 784.87,213.99 803.56,221.93" fill="#00ff00"/>
<polygon points="808.27,230.95 789.58,223.02 787.28,228.45 773.73,210.96 795.72,208.56 793.41,213.99 812.1,221.93" fill="#00ff00"/>
<polygon points="816.81,230.95 798.12,223.02 795.81,228.45 782.27,210.96 804.25,208.56 801.95,213.99 820.63,221.93" fill="#00ff00"/>
<polygon points="825.34,230.95 806.66,223.02 804.35,228.45 790.81,210.96 812.79,208.56 810.49,213.99 829.17,221.93" fill="#00ff00"/>
<polygon points="834.09,221.46 815.27,213.86 813.06,219.33 799.21,202.08 821.15,199.3 818.94,204.77 837.76,212.37" fill="#00ff00"/>
<polygon points="842.63,221.56 823.81,213.96 821.6,219.43 807.75,202.18 829.69,199.4 827.48,204.87 846.3,212.47" fill="#00ff00"/>
<polygon points="851.17,221.86 832.34,214.26 830.13,219.73 816.29,202.48 838.23,199.7 836.02,205.17 854.84,212.77" fill="#00ff00"/>
<polygon points="859.7,232.96 840.88,225.36 838.67,230.83 824.82,213.58 846.76,210.8 844.55,216.27 863.38,223.87" fill="#00ff00"/>
<polygon points="868.24,241.96 849.42,234.36 847.21,239.83 833.36,222.58 855.3,219.8 853.09,225.27 871.91,232.87" fill="#00ff00"/>
<polygon points="876.78,248.96 857.96,241.36 855.75,246.83 841.9,229.58 863.84,226.8 861.63,232.27 880.45,239.87" fill="#00ff00"/>
<polygon points="885.11,249.25 866.42,241.32 864.11,246.75 850.57,229.26 872.55,226.86 870.25,232.29 888.93,240.23" fill="#00ff00"/>
<polygon points="876.78,241.76 857.96,234.16 855.75,239.63 841.9,222.38 863.84,219.6 861.63,225.07 880.45,232.67" fill="#00ff00"/>
<polygon points="885.32,241.76 866.49,234.16 864.28,239.63 850.44,222.38 872.38,219.6 870.17,225.07 888.99,232.67" fill="#00ff00"/>
<polygon points="893.85,241.76 875.03,234.16 872.82,239.63 858.97,222.38 880.91,219.6 878.7,225.07 897.53,232.67" fill="#00ff00"/>
<polygon points="902.39,241.76 883.57,234.16 881.36,239.63 867.51,222.38 889.45,219.6 887.24,225.07 906.06,232.67" fill="#00ff00"/>
<polygon points="910.93,241.76 892.11,234.16 889.9,239.63 876.05,222.38 897.99,219.6 895.78,225.07 914.6,232.67" fill="#00ff00"/>
<polygon points="919.47,241.76 900.64,234.16 898.43,239.63 884.59,222.38 906.53,219.6 904.32,225.07 923.14,232.67" fill="#00ff00"/>
<polygon points="928,249.46 909.18,241.86 906.97,247.33 893.12,230.08 915.06,227.3 912.85,232.77 931.68,240.37" fill="#00ff00"/>
<polygon points="928,241.76 909.18,234.16 906.97,239.63 893.12,222.38 915.06,219.6 912.85,225.07 931.68,232.67" fill="#00ff00"/>
<polygon points="936.54,244.96 917.72,237.36 915.51,242.83 901.66,225.58 923.6,222.8 921.39,228.27 940.21,235.87" fill="#00ff00"/>
<polygon points="945.08,241.06 926.26,233.46 924.05,238.93 910.2,221.68 932.14,218.9 929.93,224.37 948.75,231.97" fill="#00ff00"/>
<polygon points="953.62,230.56 934.79,222.96 932.58,228.43 918.74,211.18 940.68,208.4 938.47,213.87 957.29,221.47" fill="#00ff00"/>
<polygon points="962.15,231.46 943.33,223.86 941.12,229.33 927.27,212.08 949.21,209.3 947,214.77 965.83,222.37" fill="#00ff00"/>
<polygon points="970.69,220.46 951.87,212.86 949.66,218.33 935.81,201.08 957.75,198.3 955.54,203.77 974.36,211.37" fill="#00ff00"/>
<polygon points="979.23,211.96 960.41,204.36 958.2,209.83 944.35,192.58 966.29,189.8 964.08,195.27 982.9,202.87" fill="#00ff00"/>
<polygon points="988.56,211.08 969.25,204.81 967.43,210.42 952.41,194.18 974.11,189.87 972.28,195.49 991.59,201.76" fill="#00ff00"/>
<polygon points="997.1,211.08 977.79,204.81 975.97,210.42 960.95,194.18 982.64,189.87 980.82,195.49 1000.13,201.76" fill="#00ff00"/>
<polygon points="1005.64,211.08 986.33,204.81 984.51,210.42 969.49,194.18 991.18,189.87 989.36,195.49 1008.66,201.76" fill="#00ff00"/>
<polygon points="1016.66,214.6 996.36,214.6 996.36,220.5 977.06,209.7 996.36,198.9 996.36,204.8 1016.66,204.8" fill="#00ff00"/>
<polygon points="1025.19,214.6 1004.89,214.6 1004.89,220.5 985.59,209.7 1004.89,198.9 1004.89,204.8 1025.19,204.8" fill="#00ff00"/>
<polygon points="1033.73,214.5 1013.43,214.5 1013.43,220.4 994.13,209.6 1013.43,198.8 1013.43,204.7 1033.73,204.7" fill="#00ff00"/></g>
<use href="#ic-cloud" x="130.3" y="0"/>
<use href="#ic-suncloud" x="266.9" y="0"/>
<use href="#ic-suncloud" x="403.5" y="0"/>
<use href="#ic-storm" x="540.1" y="0"/>
<use href="#ic-sunrain" x="676.7" y="0"/>
<use href="#ic-suncloud" x="813.3" y="0"/>
<use href="#ic-suncloud" x="949.9" y="0"/>
</svg>
<div class="title">7 day wind &amp; wave forecast for Tidal River</div>
<div class="temp" style="left:79.1px">14-20°</div>
<div class="day b" style="left:80.05px">Sunday</div>
<div class="date" style="left:79.8px">11th</div>
<div class="temp" style="left:215.7px">13-24°</div>
<div class="day" style="left:214.3px">Monday</div>
<div class="date" style="left:216.4px">12th</div>
<div class="temp" style="left:352.3px">16-24°</div>
<div class="day" style="left:351.4px">Tuesday</div>
<div class="date" style="left:353px">13th</div>
<div class="temp" style="left:488.9px">16-23°</div>
<div class="day" style="left:486.7px">Wednesday</div>
<div class="date" style="left:489.6px">14th</div>
<div class="temp" style="left:625.5px">16-22°</div>
<div class="day" style="left:624.4px">Thursday</div>
<div class="date" style="left:626.2px">15th</div>
<div class="temp" style="left:762.1px">16-22°</div>
<div class="day" style="left:761.1px">Friday</div>
<div class="date" style="left:762.8px">16th</div>
<div class="temp" style="left:898.7px">15-22°</div>
<div class="day b" style="left:899.8px">Saturday</div>
<div class="date" style="left:899.4px">17th</div>
<div class="yl" style="top:398.3px">0</div>
<div class="yr" style="top:398.3px">0</div>
<div class="yl" style="top:350.97px">1</div>
<div class="yr" style="top:350.97px">5</div>
<div class="yl" style="top:303.63px">2</div>
<div class="yr" style="top:303.63px">10</div>
<div class="yl" style="top:256.3px">3</div>
<div class="yr" style="top:256.3px">15</div>
<div class="yl" style="top:208.97px">4</div>
<div class="yr" style="top:208.97px">20</div>
<div class="yl" style="top:161.63px">5</div>
<div class="yr" style="top:161.63px">25</div>
<div class="yl" style="top:114.3px">6</div>
<div class="yr" style="top:114.3px">30</div>
<div class="vl"><span>Wave Height - Metres</span></div>
<div class="vr"><span>Wind Speed - Knots</span></div>
</body></html>
